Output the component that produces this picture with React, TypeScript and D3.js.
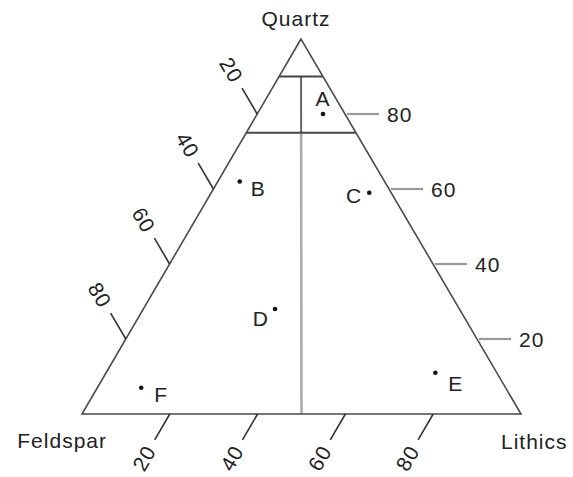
import React from "react";
import * as d3 from "d3";

// ---- data ----
const vertexNames = ["Quartz", "Feldspar", "Lithics"];
const pointNames = ["A", "B", "C", "D", "E", "F"];
const quartzValues = [80, 62, 59, 28, 11, 7];
const feldsparValues = [5, 33, 5, 42, 14, 83];
const lithicsValues = [15, 5, 36, 30, 75, 10];
const tickValues = [20, 40, 60, 80];
const fieldLinesQ = [90, 75];
const splitFL = 50; // F = L divider (percent of L within F+L)

// ---- layout / style ----
const W = 573;
const H = 477;
const APEX = [301, 39];
const LEFT = [82, 414];
const RIGHT = [521, 414];
const FONT = "'Liberation Sans', Arial, Helvetica, sans-serif";
const FS = 21;
const LS = 1;
const TEXT = "#222";
const EDGE = "#4a4a4a";
const TICK_LEN = 30;
const LABEL_DIST = 51;
const RIGHT_TICK_LEN = 34;

// label placements (offsets relative to the point, in px)
const pointLabelLayout: Record<string, { dx: number; dy: number; anchor: string }> = {
  A: { dx: 0, dy: -8, anchor: "middle" },
  B: { dx: 11, dy: 14, anchor: "start" },
  C: { dx: -7, dy: 10, anchor: "end" },
  D: { dx: -6, dy: 17, anchor: "end" },
  E: { dx: 13, dy: 18, anchor: "start" },
  F: { dx: 13, dy: 14, anchor: "start" },
};
const vertexLabelLayout = [
  { dx: -5, dy: -13, anchor: "middle" },
  { dx: 25, dy: 34, anchor: "end" },
  { dx: -20, dy: 35, anchor: "start" },
];

// scales: y from quartz percent; x along base from lithics percent (+ quartz skew)
const yScale = d3.scaleLinear().domain([0, 100]).range([LEFT[1], APEX[1]]);
const xScale = d3.scaleLinear().domain([0, 100]).range([LEFT[0], RIGHT[0]]);
const apexK = (APEX[0] - LEFT[0]) / (RIGHT[0] - LEFT[0]);

function proj(q: number, f: number, l: number): [number, number] {
  const s = q + f + l;
  const qq = (q / s) * 100;
  const ll = (l / s) * 100;
  return [xScale(ll + qq * apexK), yScale(qq)];
}

function unit(a: number[], b: number[]) {
  const dx = b[0] - a[0];
  const dy = b[1] - a[1];
  const n = Math.hypot(dx, dy);
  return [dx / n, dy / n];
}

const line = d3.line<[number, number]>();

export default function App() {
  const vQ = proj(100, 0, 0);
  const vF = proj(0, 100, 0);
  const vL = proj(0, 0, 100);
  const vertices = [vQ, vF, vL];

  const leftDir = unit(vL, vQ); // parallel to right edge, outward from left edge
  const bottomDir = unit(vQ, vF); // parallel to left edge, outward from base
  const leftAngle = (Math.atan2(-leftDir[1], -leftDir[0]) * 180) / Math.PI;
  const bottomAngle = (Math.atan2(-bottomDir[1], -bottomDir[0]) * 180) / Math.PI;

  const textProps = {
    fontFamily: FONT,
    fontSize: FS,
    letterSpacing: LS,
    fill: TEXT,
  };

  const divTop = proj(fieldLinesQ[0], (100 - fieldLinesQ[0]) * (1 - splitFL / 100), (100 - fieldLinesQ[0]) * (splitFL / 100));
  const divMid = proj(fieldLinesQ[1], (100 - fieldLinesQ[1]) * (1 - splitFL / 100), (100 - fieldLinesQ[1]) * (splitFL / 100));
  const divBot = proj(0, 100 - splitFL, splitFL);

  return (
    <svg
      width={W}
      height={H}
      viewBox={`0 0 ${W} ${H}`}
      style={{ position: "absolute", left: 0, top: 0, background: "#fff" }}
    >
      {/* F = L divider */}
      <path d={line([divMid, divBot]) || ""} stroke="#aaa" strokeWidth={2.5} fill="none" />
      <path d={line([divTop, divMid]) || ""} stroke="#666" strokeWidth={2} fill="none" />

      {/* field boundary lines of constant quartz */}
      {fieldLinesQ.map((q) => (
        <path
          key={"fl" + q}
          d={line([proj(q, 100 - q, 0), proj(q, 0, 100 - q)]) || ""}
          stroke="#444"
          strokeWidth={2}
          fill="none"
        />
      ))}

      {/* triangle */}
      <path
        d={(line([vQ, vF, vL]) || "") + "Z"}
        stroke={EDGE}
        strokeWidth={1.6}
        fill="none"
        strokeLinejoin="miter"
      />

      {/* left ticks: feldspar percent */}
      {tickValues.map((t) => {
        const p = proj(100 - t, t, 0);
        const e = [p[0] + leftDir[0] * TICK_LEN, p[1] + leftDir[1] * TICK_LEN];
        const c = [p[0] + leftDir[0] * LABEL_DIST, p[1] + leftDir[1] * LABEL_DIST];
        return (
          <g key={"lt" + t}>
            <line x1={p[0]} y1={p[1]} x2={e[0]} y2={e[1]} stroke="#333" strokeWidth={1.6} />
            <text
              {...textProps}
              textAnchor="middle"
              dominantBaseline="central"
              transform={`translate(${c[0]},${c[1]}) rotate(${leftAngle})`}
            >
              {t}
            </text>
          </g>
        );
      })}

      {/* bottom ticks: lithics percent */}
      {tickValues.map((t) => {
        const p = proj(0, 100 - t, t);
        const e = [p[0] + bottomDir[0] * TICK_LEN, p[1] + bottomDir[1] * TICK_LEN];
        const c = [p[0] + bottomDir[0] * LABEL_DIST, p[1] + bottomDir[1] * LABEL_DIST];
        return (
          <g key={"bt" + t}>
            <line x1={p[0]} y1={p[1]} x2={e[0]} y2={e[1]} stroke="#333" strokeWidth={1.6} />
            <text
              {...textProps}
              textAnchor="middle"
              dominantBaseline="central"
              transform={`translate(${c[0]},${c[1]}) rotate(${bottomAngle})`}
            >
              {t}
            </text>
          </g>
        );
      })}

      {/* right ticks: quartz percent */}
      {tickValues.map((t) => {
        const p = proj(t, 0, 100 - t);
        return (
          <g key={"rt" + t}>
            <line
              x1={p[0] + 2}
              y1={p[1]}
              x2={p[0] + RIGHT_TICK_LEN}
              y2={p[1]}
              stroke="#999"
              strokeWidth={2.2}
            />
            <text
              {...textProps}
              x={p[0] + RIGHT_TICK_LEN + 8}
              y={p[1]}
              dominantBaseline="central"
            >
              {t}
            </text>
          </g>
        );
      })}

      {/* vertex labels */}
      {vertexNames.map((n, i) => (
        <text
          key={n}
          {...textProps}
          x={vertices[i][0] + vertexLabelLayout[i].dx}
          y={vertices[i][1] + vertexLabelLayout[i].dy}
          textAnchor={vertexLabelLayout[i].anchor as any}
        >
          {n}
        </text>
      ))}

      {/* sample points */}
      {pointNames.map((n, i) => {
        const p = proj(quartzValues[i], feldsparValues[i], lithicsValues[i]);
        const lay = pointLabelLayout[n];
        return (
          <g key={n}>
            <circle cx={p[0]} cy={p[1]} r={2.3} fill="#111" />
            <text
              {...textProps}
              x={p[0] + lay.dx}
              y={p[1] + lay.dy}
              textAnchor={lay.anchor as any}
            >
              {n}
            </text>
          </g>
        );
      })}
    </svg>
  );
}
